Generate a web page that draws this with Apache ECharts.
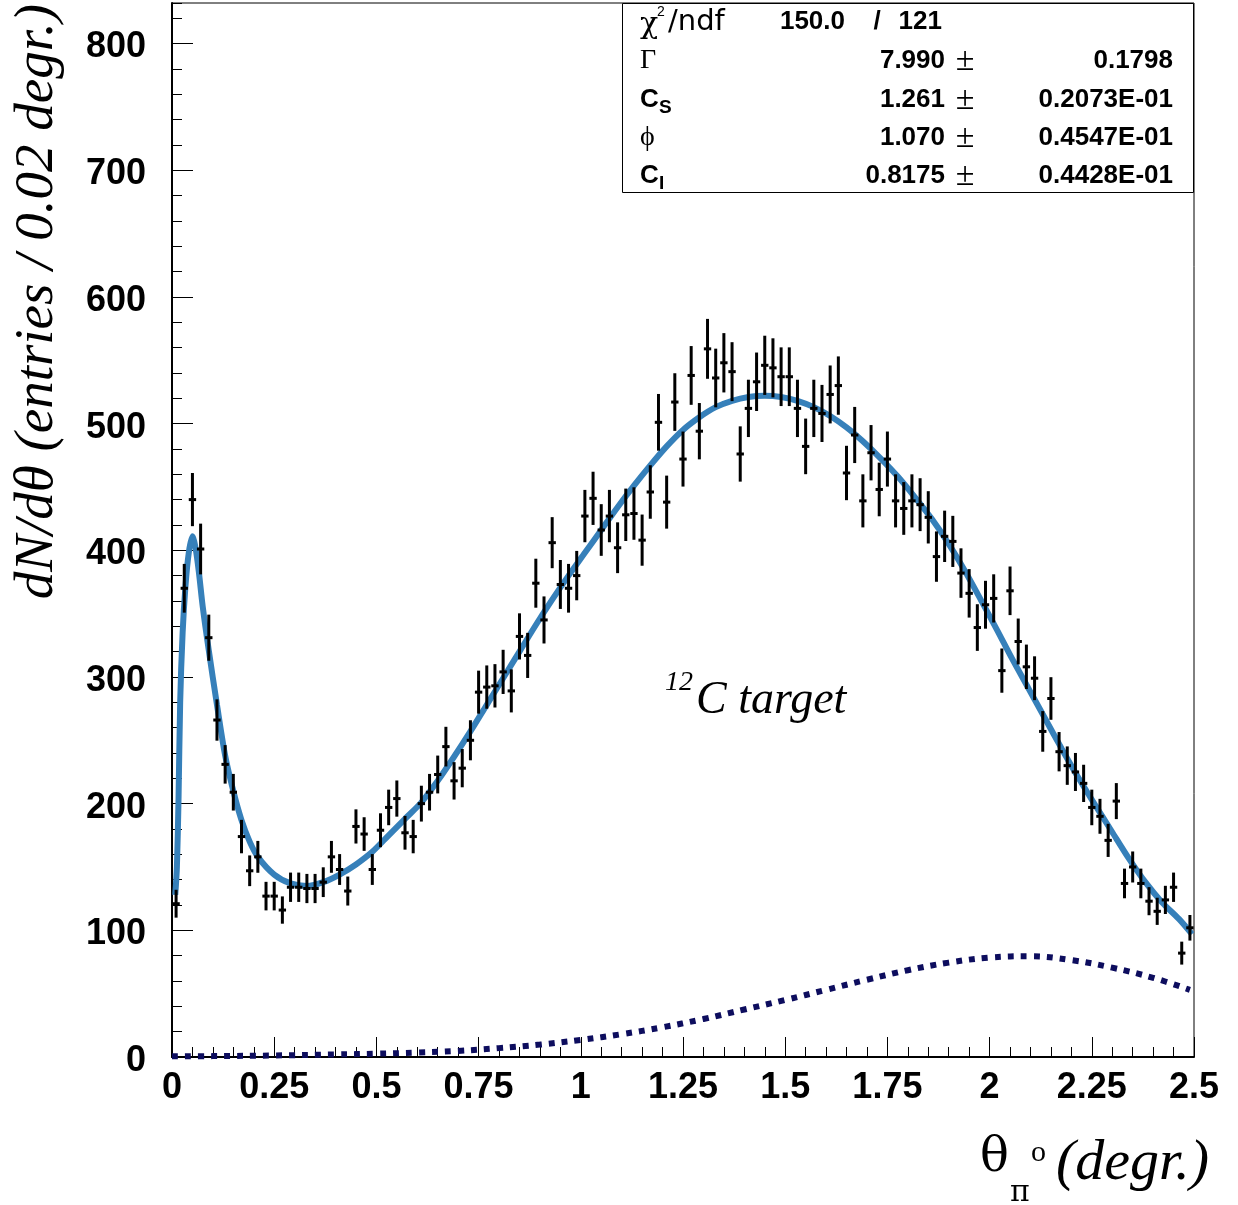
<!DOCTYPE html>
<html><head><meta charset="utf-8">
<script src="https://cdn.jsdelivr.net/npm/echarts@6/dist/echarts.min.js"></script>
<style>html,body{margin:0;padding:0;background:#fff}#c{width:1238px;height:1205px}</style>
</head><body><div id="c"></div>
<script>
// ---------- data ----------
const binWidth = 0.02;            // degrees per bin
const binStart = 0.0;
const counts = [
121,370,440,401,331,266,231,209,174,147,
158,127,127,116,134,134,133,133,138,158,
148,131,182,176,148,179,197,204,177,174,
200,209,223,245,218,228,250,288,292,293,
304,289,332,317,374,345,406,373,370,380,
427,441,416,427,402,428,429,408,446,501,
438,517,472,538,494,559,536,548,541,476,
512,533,546,544,537,537,512,482,512,508,
523,530,461,491,439,477,448,472,439,433,
439,436,426,395,411,407,382,366,339,357,
362,305,368,328,308,299,257,283,241,230,
225,216,197,190,171,202,137,150,137,123,
115,124,134,82,102
];
// total fit (solid blue)
const fitX = [0.008,0.012,0.016,0.020,0.026,0.033,0.041,0.050,0.058,0.066,0.075,0.090,0.110,0.130,0.150,0.170,0.190,0.210,0.250,0.290,0.330,0.370,0.410,0.450,0.490,0.530,0.570,0.610,0.650,0.690,0.730,0.770,0.810,0.850,0.890,0.930,0.970,1.010,1.050,1.090,1.130,1.170,1.210,1.250,1.290,1.330,1.370,1.410,1.450,1.490,1.530,1.570,1.610,1.650,1.690,1.735,1.776,1.817,1.858,1.898,1.939,1.980,2.020,2.054,2.095,2.136,2.177,2.218,2.258,2.299,2.340,2.381,2.422,2.463,2.495];
const fitY = [128,150,204,280,335,372,398,411,401,382,356,321,278,238,210,187,170,158,144,137,135,138,144,152,162,175,188,201,218,237,257,278,299,320,341,361,380,398,416,434,451,467,482,495,505,513,518,521,522,521,518,513,506,497,486,472,458,442,425,406,384,360,336,315,291,267,243,220,199,178,157,138,122,109,97];
// second component (dashed navy)
const bgX = [0.0,0.1,0.25,0.4,0.5,0.6,0.7,0.8,0.9,1.0,1.1,1.2,1.3,1.4,1.5,1.6,1.7,1.8,1.9,2.0,2.1,2.2,2.3,2.4,2.49];
const bgY = [0.5,0.7,1.2,2.0,2.6,3.5,4.8,7.0,9.8,13.5,18,23.5,30,37.5,45,53,61,68.5,74.5,78.5,79.5,76.5,70.5,62.5,53];
// stats box
const statHeader = ['150.0', '/', '121'];
const statNames = ['Γ', 'C', 'ϕ', 'C'];
const statSubs  = ['', 'S', '', 'I'];
const statVals  = ['7.990', '1.261', '1.070', '0.8175'];
const statErrs  = ['0.1798', '0.2073E-01', '0.4547E-01', '0.4428E-01'];

// ---------- chart ----------
const SANS = '"Liberation Sans", Arial, Helvetica, sans-serif';
const SERIF = '"Liberation Serif", "Times New Roman", serif';
const DSERIF = '"DejaVu Serif", serif';
const chart = echarts.init(document.getElementById('c'), null, {renderer: 'canvas'});

const hist = counts.map((c, i) => [binStart + (i + 0.5) * binWidth, c, Math.sqrt(c)]);
const fitData = fitX.map((x, i) => [x, fitY[i]]);
const bgData = bgX.map((x, i) => [x, bgY[i]]);

const GL = 172, GR = 44, GT = 3, GB = 148;

function txt(x, y, text, font, align, valign, extra) {
  return Object.assign({
    type: 'text', x: x, y: y, z: 100,
    style: {text: text, font: font, fill: '#000',
      align: align, verticalAlign: valign, textAlign: align, textVerticalAlign: valign}
  }, extra || {});
}

const rowY = [22, 61, 100, 138, 176];
const graphics = [
  {type: 'rect', z: 90, shape: {x: 622.5, y: 3.5, width: 571, height: 189},
   style: {fill: '#fff', stroke: '#000', lineWidth: 1}},
  txt(640, rowY[0] + 3, 'χ', '30px ' + DSERIF, 'left', 'middle'),
  txt(657, rowY[0] - 10, '2', '14px ' + SANS, 'left', 'middle'),
  txt(668, rowY[0], '/ndf', '29px "DejaVu Sans", sans-serif', 'left', 'middle'),
  txt(845, rowY[0], statHeader[0], 'bold 26px ' + SANS, 'right', 'middle'),
  txt(877, rowY[0], statHeader[1], 'bold 26px ' + SANS, 'center', 'middle'),
  txt(942, rowY[0], statHeader[2], 'bold 26px ' + SANS, 'right', 'middle'),
  // axis titles
  txt(38, 4, 'dN/dθ (entries / 0.02 degr.)', 'italic 55px ' + SERIF, 'right', 'middle', {rotation: Math.PI / 2}),
  txt(980, 1159, 'θ', '48px ' + DSERIF, 'left', 'middle'),
  txt(1010, 1193, 'π', '30px ' + DSERIF, 'left', 'middle'),
  txt(1031, 1153, 'o', '30px ' + SERIF, 'left', 'middle'),
  txt(1056, 1164, '(degr.)', 'italic 58px ' + SERIF, 'left', 'middle'),
  // annotation
  txt(665, 683, '12', 'italic 28px ' + SERIF, 'left', 'middle'),
  txt(696, 701, 'C target', 'italic 46px ' + SERIF, 'left', 'middle')
];
for (let i = 0; i < statNames.length; i++) {
  const y = rowY[i + 1];
  const isGreek = statSubs[i] === '';
  graphics.push(txt(640, y, statNames[i], isGreek ? '28px ' + SERIF : 'bold 26px ' + SANS, 'left', 'middle'));
  if (statSubs[i]) graphics.push(txt(659, y + 8, statSubs[i], 'bold 19px ' + SANS, 'left', 'middle'));
  graphics.push(txt(945, y, statVals[i], 'bold 26px ' + SANS, 'right', 'middle'));
  graphics.push(txt(965, y, '±', '34px ' + SERIF, 'center', 'middle'));
  graphics.push(txt(1173, y, statErrs[i], 'bold 26px ' + SANS, 'right', 'middle'));
}

const labelStyle = {color: '#000', fontFamily: SANS, fontWeight: 'bold', fontSize: 36};

chart.setOption({
  animation: false,
  backgroundColor: '#fff',
  grid: {left: GL, right: GR, top: GT, bottom: GB, show: true, borderColor: '#000', borderWidth: 1, containLabel: false},
  xAxis: [
    {type: 'value', min: 0, max: 2.5, interval: 0.25, position: 'bottom',
     axisLine: {show: true, onZero: false, lineStyle: {color: '#000', width: 2}},
     axisTick: {show: true, inside: true, length: 20, lineStyle: {color: '#000', width: 1}},
     axisLabel: Object.assign({margin: 13, formatter: v => String(+v.toFixed(2))}, labelStyle),
     splitLine: {show: false}},
    {type: 'value', min: 0, max: 2.5, interval: 0.05, position: 'bottom', offset: 0,
     axisLine: {show: false}, axisLabel: {show: false}, splitLine: {show: false},
     axisTick: {show: true, inside: true, length: 10, lineStyle: {color: '#000', width: 1}}}
  ],
  yAxis: [
    {type: 'value', min: 0, max: 832, interval: 100, position: 'left',
     axisLine: {show: true, onZero: false, lineStyle: {color: '#000', width: 2}},
     axisTick: {show: true, inside: true, length: 21, lineStyle: {color: '#000', width: 1}},
     axisLabel: Object.assign({margin: 26, showMaxLabel: false, verticalAlign: 'top', lineHeight: 8}, labelStyle),
     splitLine: {show: false}},
    {type: 'value', min: 0, max: 832, interval: 20, position: 'left', offset: 0,
     axisLine: {show: false}, axisLabel: {show: false}, splitLine: {show: false},
     axisTick: {show: true, inside: true, length: 10, lineStyle: {color: '#000', width: 1}}}
  ],
  series: [
    {type: 'line', data: bgData, smooth: 0.4, showSymbol: false, z: 2,
     lineStyle: {color: '#0d0d5e', width: 6, type: [6, 7]}},
    {type: 'line', data: fitData, smooth: 0.3, showSymbol: false, z: 3,
     lineStyle: {color: '#3680ba', width: 6}},
    {type: 'custom', data: hist, z: 5, encode: {x: 0, y: 1},
     renderItem: function (params, api) {
       const x = api.value(0), y = api.value(1), e = api.value(2);
       const t = api.coord([x, y + e]), b = api.coord([x, y - e]);
       const l = api.coord([x - binWidth * 0.45, y]), r = api.coord([x + binWidth * 0.45, y]);
       return {type: 'group', children: [
         {type: 'line', shape: {x1: t[0], y1: t[1], x2: b[0], y2: b[1]}, style: {stroke: '#000', lineWidth: 3}},
         {type: 'line', shape: {x1: l[0], y1: l[1], x2: r[0], y2: r[1]}, style: {stroke: '#000', lineWidth: 3}}
       ]};
     }}
  ],
  graphic: {elements: graphics}
});
</script></body></html>
